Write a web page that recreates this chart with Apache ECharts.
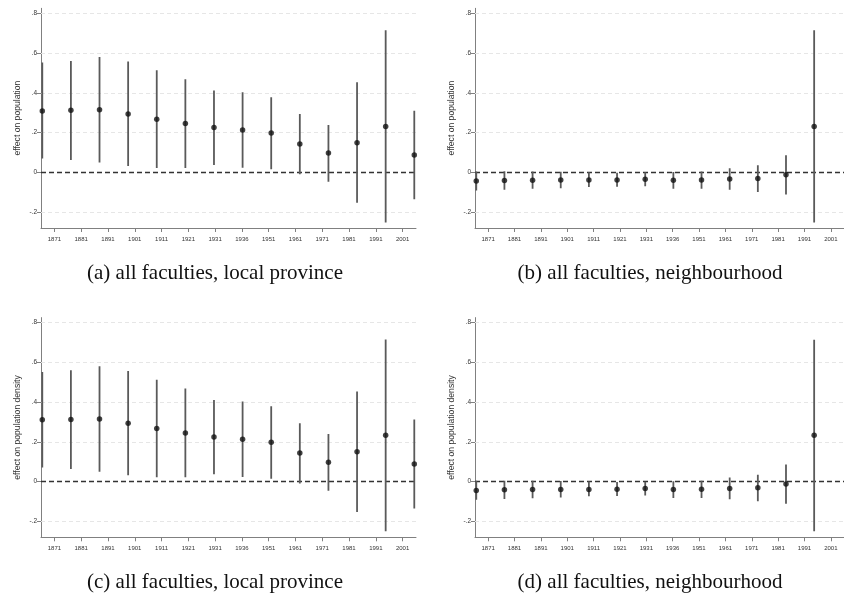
<!DOCTYPE html>
<html>
<head>
<meta charset="utf-8">
<script src="https://cdn.jsdelivr.net/npm/echarts@6/dist/echarts.min.js"></script>
<style>
html,body{margin:0;padding:0;background:#fff;}
#chart{width:844px;height:596px;}
</style>
</head>
<body>
<div id="chart"></div>
<script>
// ---- tick labels ----
const yearLabels = ['1871','1881','1891','1901','1911','1921','1931','1936','1951','1961','1971','1981','1991','2001'];
const yTicks = [-0.2, 0, 0.2, 0.4, 0.6, 0.8];
const gridLineValues = [-0.2, 0.2, 0.4, 0.6, 0.8];

// ---- (a) all faculties, local province: effect on population ----
const popLocalCoef = [0.309, 0.312, 0.315, 0.293, 0.267, 0.245, 0.225, 0.213, 0.198, 0.143, 0.097, 0.149, 0.231, 0.087];
const popLocalHi   = [0.552, 0.560, 0.580, 0.557, 0.513, 0.468, 0.411, 0.403, 0.377, 0.293, 0.238, 0.453, 0.714, 0.310];
const popLocalLo   = [0.069, 0.062, 0.049, 0.032, 0.022, 0.022, 0.037, 0.023, 0.015, -0.010, -0.047, -0.153, -0.252, -0.136];

// ---- (b) all faculties, neighbourhood: effect on population ----
const popNbCoef = [-0.044, -0.041, -0.040, -0.039, -0.039, -0.038, -0.035, -0.040, -0.038, -0.034, -0.031, -0.012, 0.231];
const popNbHi   = [0.004, 0.005, 0.004, 0.003, 0.001, -0.002, 0.000, 0.002, 0.004, 0.021, 0.035, 0.086, 0.714];
const popNbLo   = [-0.091, -0.087, -0.083, -0.080, -0.074, -0.072, -0.070, -0.082, -0.082, -0.088, -0.099, -0.111, -0.252];

// ---- (c) all faculties, local province: effect on population density ----
const denLocalCoef = [0.311, 0.312, 0.315, 0.294, 0.267, 0.245, 0.225, 0.213, 0.198, 0.144, 0.098, 0.150, 0.233, 0.089];
const denLocalHi   = [0.551, 0.560, 0.580, 0.557, 0.513, 0.468, 0.411, 0.403, 0.379, 0.294, 0.240, 0.453, 0.715, 0.313];
const denLocalLo   = [0.071, 0.064, 0.050, 0.032, 0.022, 0.022, 0.037, 0.023, 0.015, -0.010, -0.046, -0.153, -0.249, -0.135];

// ---- (d) all faculties, neighbourhood: effect on population density ----
const denNbCoef = [-0.044, -0.041, -0.040, -0.039, -0.039, -0.038, -0.035, -0.040, -0.038, -0.034, -0.031, -0.012, 0.233];
const denNbHi   = [0.004, 0.005, 0.004, 0.003, 0.001, -0.002, 0.000, 0.002, 0.004, 0.021, 0.035, 0.086, 0.714];
const denNbLo   = [-0.091, -0.087, -0.083, -0.080, -0.074, -0.072, -0.070, -0.082, -0.082, -0.088, -0.099, -0.111, -0.250];

const captions = [
  '(a) all faculties, local province',
  '(b) all faculties, neighbourhood',
  '(c) all faculties, local province',
  '(d) all faculties, neighbourhood'
];
const yTitles = ['effect on population', 'effect on population', 'effect on population density', 'effect on population density'];

const panels = [
  {coef: popLocalCoef, hi: popLocalHi, lo: popLocalLo},
  {coef: popNbCoef, hi: popNbHi, lo: popNbLo},
  {coef: denLocalCoef, hi: denLocalHi, lo: denLocalLo},
  {coef: denNbCoef, hi: denNbHi, lo: denNbLo}
];

const layout = [
  {left: 41, top: 8.3, cx: 215, cy: 273},
  {left: 475, top: 8.3, cx: 650, cy: 273},
  {left: 41, top: 317.6, cx: 215, cy: 582.5},
  {left: 475, top: 317.6, cx: 650, cy: 582.5}
];
const GW = 375, GH = 219.7;

function fmtY(v){
  if (Math.abs(v) < 1e-9) return '0';
  let s = String(Math.round(v*10)/10);
  return s.replace('0.', '.');
}

const grids = [], xAxes = [], yAxes = [], series = [], graphics = [];
const axisColor = '#808080';
const fontSans = 'Liberation Sans';

panels.forEach((p, k) => {
  const L = layout[k];
  grids.push({left: L.left, top: L.top, width: GW, height: GH, containLabel: false});
  // label axis (category)
  xAxes.push({
    gridIndex: k, type: 'category', data: yearLabels, boundaryGap: true, position: 'bottom',
    axisLine: {show: true, onZero: false, lineStyle: {color: axisColor, width: 1}},
    axisTick: {show: true, alignWithLabel: true, length: 4, lineStyle: {color: axisColor}},
    axisLabel: {fontSize: 6, color: '#333', margin: 8, fontFamily: fontSans, interval: 0},
    splitLine: {show: false}
  });
  // data axis (positions of estimates)
  xAxes.push({
    gridIndex: k, type: 'value', min: -0.045, max: 13.06, show: false, position: 'top',
    axisLine: {onZero: false},
    splitLine: {show: false}
  });
  yAxes.push({
    gridIndex: k, type: 'value', min: -0.28, max: 0.825,
    axisLine: {show: true, onZero: false, lineStyle: {color: axisColor, width: 1}},
    axisTick: {show: true, length: 4, customValues: yTicks, lineStyle: {color: axisColor}},
    axisLabel: {customValues: yTicks, formatter: fmtY, fontSize: 6.5, color: '#333', margin: 4, fontFamily: fontSans},
    splitLine: {show: false},
    name: yTitles[k], nameLocation: 'middle', nameGap: 19,
    nameTextStyle: {fontSize: 8.6, color: '#333', fontFamily: fontSans}
  });
  const xi = 2*k + 1;
  // light grid lines (behind everything)
  series.push({
    type: 'scatter', xAxisIndex: xi, yAxisIndex: k, z: 1, data: [], silent: true,
    markLine: {
      z: 1, silent: true, symbol: ['none','none'], label: {show: false}, animation: false,
      data: gridLineValues.map(v => ({yAxis: v, lineStyle: {color: '#e6e6e6', width: 1, type: [4, 3]}}))
    }
  });
  // zero reference line
  series.push({
    type: 'scatter', xAxisIndex: xi, yAxisIndex: k, z: 2, data: [], silent: true,
    markLine: {
      z: 2, silent: true, symbol: ['none','none'], label: {show: false}, animation: false,
      data: [{yAxis: 0, lineStyle: {color: '#333', width: 1.3, type: [5, 3]}}]
    }
  });
  const errData = p.lo.map((l, i) => [i, l, p.hi[i]]);
  series.push({
    type: 'custom', xAxisIndex: xi, yAxisIndex: k, clip: true, z: 3,
    data: errData,
    encode: {x: 0, y: [1, 2]},
    renderItem: function(params, api){
      const a = api.coord([api.value(0), api.value(1)]);
      const b = api.coord([api.value(0), api.value(2)]);
      return {type: 'line', shape: {x1: a[0], y1: a[1], x2: b[0], y2: b[1]},
              style: {stroke: '#5a5a5a', lineWidth: 1.8}};
    }
  });
  series.push({
    type: 'scatter', xAxisIndex: xi, yAxisIndex: k, z: 4,
    symbol: 'circle', symbolSize: 5.5,
    itemStyle: {color: '#111'},
    data: p.coef.map((v, i) => [i, v])
  });
  graphics.push({
    type: 'text', x: L.cx, y: L.cy,
    style: {text: captions[k], align: 'center', verticalAlign: 'middle',
            font: '21px "Liberation Serif"', fill: '#111'}
  });
});

const chart = echarts.init(document.getElementById('chart'), null, {renderer: 'canvas'});
chart.setOption({
  animation: false,
  backgroundColor: '#fff',
  grid: grids, xAxis: xAxes, yAxis: yAxes, series: series, graphic: graphics
});
</script>
</body>
</html>
